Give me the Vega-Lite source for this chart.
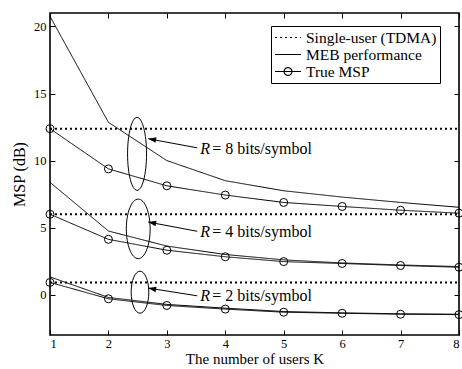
{
  "$schema": "https://vega.github.io/schema/vega-lite/v6.json",
  "width": 409,
  "height": 322,
  "autosize": "none",
  "padding": {"left": 50, "top": 13, "right": 3, "bottom": 34},
  "background": "white",
  "config": {
    "view": {"stroke": "black", "strokeWidth": 1.6},
    "font": "Liberation Serif",
    "axis": {"grid": false, "domain": false, "tickColor": "black", "labelColor": "black", "titleColor": "black", "labelFont": "Liberation Serif", "titleFont": "Liberation Serif", "labelFontSize": 12.5, "titleFontSize": 16, "titleFontWeight": "normal", "tickSize": -5, "tickWidth": 1}
  },
  "datasets": {
    "curves": [
      {"K": 1, "MSP": 12.38, "series": "Single-user (TDMA)", "R": "8"},
      {"K": 8, "MSP": 12.38, "series": "Single-user (TDMA)", "R": "8"},
      {"K": 1, "MSP": 6.0, "series": "Single-user (TDMA)", "R": "4"},
      {"K": 8, "MSP": 6.0, "series": "Single-user (TDMA)", "R": "4"},
      {"K": 1, "MSP": 0.92, "series": "Single-user (TDMA)", "R": "2"},
      {"K": 8, "MSP": 0.92, "series": "Single-user (TDMA)", "R": "2"},
      {"K": 1, "MSP": 20.75, "series": "MEB performance", "R": "8"},
      {"K": 2, "MSP": 12.85, "series": "MEB performance", "R": "8"},
      {"K": 3, "MSP": 10.0, "series": "MEB performance", "R": "8"},
      {"K": 4, "MSP": 8.5, "series": "MEB performance", "R": "8"},
      {"K": 5, "MSP": 7.75, "series": "MEB performance", "R": "8"},
      {"K": 6, "MSP": 7.28, "series": "MEB performance", "R": "8"},
      {"K": 7, "MSP": 6.88, "series": "MEB performance", "R": "8"},
      {"K": 8, "MSP": 6.52, "series": "MEB performance", "R": "8"},
      {"K": 1, "MSP": 12.38, "series": "True MSP", "R": "8"},
      {"K": 2, "MSP": 9.38, "series": "True MSP", "R": "8"},
      {"K": 3, "MSP": 8.12, "series": "True MSP", "R": "8"},
      {"K": 4, "MSP": 7.43, "series": "True MSP", "R": "8"},
      {"K": 5, "MSP": 6.88, "series": "True MSP", "R": "8"},
      {"K": 6, "MSP": 6.58, "series": "True MSP", "R": "8"},
      {"K": 7, "MSP": 6.3, "series": "True MSP", "R": "8"},
      {"K": 8, "MSP": 6.08, "series": "True MSP", "R": "8"},
      {"K": 1, "MSP": 8.38, "series": "MEB performance", "R": "4"},
      {"K": 2, "MSP": 4.75, "series": "MEB performance", "R": "4"},
      {"K": 3, "MSP": 3.63, "series": "MEB performance", "R": "4"},
      {"K": 4, "MSP": 3.0, "series": "MEB performance", "R": "4"},
      {"K": 5, "MSP": 2.6, "series": "MEB performance", "R": "4"},
      {"K": 6, "MSP": 2.37, "series": "MEB performance", "R": "4"},
      {"K": 7, "MSP": 2.22, "series": "MEB performance", "R": "4"},
      {"K": 8, "MSP": 2.1, "series": "MEB performance", "R": "4"},
      {"K": 1, "MSP": 6.0, "series": "True MSP", "R": "4"},
      {"K": 2, "MSP": 4.13, "series": "True MSP", "R": "4"},
      {"K": 3, "MSP": 3.32, "series": "True MSP", "R": "4"},
      {"K": 4, "MSP": 2.83, "series": "True MSP", "R": "4"},
      {"K": 5, "MSP": 2.47, "series": "True MSP", "R": "4"},
      {"K": 6, "MSP": 2.33, "series": "True MSP", "R": "4"},
      {"K": 7, "MSP": 2.18, "series": "True MSP", "R": "4"},
      {"K": 8, "MSP": 2.05, "series": "True MSP", "R": "4"},
      {"K": 1, "MSP": 1.33, "series": "MEB performance", "R": "2"},
      {"K": 2, "MSP": -0.2, "series": "MEB performance", "R": "2"},
      {"K": 3, "MSP": -0.72, "series": "MEB performance", "R": "2"},
      {"K": 4, "MSP": -1.0, "series": "MEB performance", "R": "2"},
      {"K": 5, "MSP": -1.25, "series": "MEB performance", "R": "2"},
      {"K": 6, "MSP": -1.35, "series": "MEB performance", "R": "2"},
      {"K": 7, "MSP": -1.42, "series": "MEB performance", "R": "2"},
      {"K": 8, "MSP": -1.45, "series": "MEB performance", "R": "2"},
      {"K": 1, "MSP": 0.92, "series": "True MSP", "R": "2"},
      {"K": 2, "MSP": -0.3, "series": "True MSP", "R": "2"},
      {"K": 3, "MSP": -0.8, "series": "True MSP", "R": "2"},
      {"K": 4, "MSP": -1.07, "series": "True MSP", "R": "2"},
      {"K": 5, "MSP": -1.3, "series": "True MSP", "R": "2"},
      {"K": 6, "MSP": -1.38, "series": "True MSP", "R": "2"},
      {"K": 7, "MSP": -1.45, "series": "True MSP", "R": "2"},
      {"K": 8, "MSP": -1.48, "series": "True MSP", "R": "2"}
    ],
    "notes": [
      {"R": "8", "Ke": 2.49, "Me": 10.5, "Ka": 2.68, "Ma": 11.63, "Kb": 3.52, "Mb": 10.95, "Kt": 3.57, "Mt": 10.88, "italic": "R", "rest": "= 8 bits/symbol"},
      {"R": "4", "Ke": 2.51, "Me": 4.91, "Ka": 2.68, "Ma": 5.42, "Kb": 3.52, "Mb": 4.73, "Kt": 3.57, "Mt": 4.65, "italic": "R", "rest": "= 4 bits/symbol"},
      {"R": "2", "Ke": 2.54, "Me": 0.19, "Ka": 2.68, "Ma": 0.5, "Kb": 3.52, "Mb": -0.08, "Kt": 3.57, "Mt": -0.13, "italic": "R", "rest": "= 2 bits/symbol"}
    ]
  },
  "resolve": {"axis": {"x": "independent", "y": "independent"}},
  "layer": [
    {
      "data": {"name": "curves"},
      "transform": [{"filter": "datum.series === 'Single-user (TDMA)'"}],
      "mark": {"type": "line", "color": "black", "strokeWidth": 2},
      "encoding": {
        "x": {"field": "K", "type": "quantitative", "scale": {"domain": [1, 8], "nice": false, "zero": false}, "axis": null},
        "y": {"field": "MSP", "type": "quantitative", "scale": {"domain": [-3, 21], "nice": false, "zero": false}, "axis": null},
        "detail": {"field": "R"},
        "strokeDash": {
          "field": "series", "type": "nominal",
          "scale": {"domain": ["Single-user (TDMA)", "MEB performance", "True MSP"], "range": [[2, 3], [1, 0], [1, 0]]},
          "legend": {
            "orient": "none", "legendX": 221, "legendY": 13, "title": null,
            "strokeColor": "black", "fillColor": "white", "padding": 3,
            "labelFont": "Liberation Serif", "labelFontSize": 15.5, "labelColor": "black", "labelOffset": 4, "labelLimit": 300,
            "symbolType": "stroke", "symbolSize": 676, "symbolStrokeColor": "black", "symbolStrokeWidth": 1.2, "symbolFillColor": "transparent",
            "clipHeight": 17, "rowPadding": 0,
            "encode": {"symbols": {"update": {"shape": {"signal": "datum.value === 'True MSP' ? 'M -1 0 L 1 0 M -0.3 0 A 0.3 0.3 0 1 1 0.3 0 A 0.3 0.3 0 1 1 -0.3 0' : 'stroke'"}}}}
          }
        }
      }
    },
    {
      "data": {"name": "curves"},
      "transform": [{"filter": "datum.series !== 'Single-user (TDMA)'"}],
      "mark": {"type": "line", "color": "black", "strokeWidth": 1},
      "encoding": {
        "x": {"field": "K", "type": "quantitative", "axis": {"orient": "bottom", "values": [1, 2, 3, 4, 5, 6, 7, 8], "format": "d", "title": "The number of users K", "titleFontSize": 15, "labelPadding": 7, "titlePadding": 2}},
        "y": {"field": "MSP", "type": "quantitative", "axis": {"orient": "left", "values": [0, 5, 10, 15, 20], "format": "d", "title": "MSP (dB)", "labelPadding": 9, "titlePadding": 6}},
        "detail": {"field": "R"},
        "strokeDash": {"field": "series", "type": "nominal"}
      }
    },
    {
      "data": {"name": "curves"},
      "transform": [{"filter": "datum.series === 'True MSP'"}],
      "mark": {"type": "point", "shape": "circle", "size": 64, "filled": false, "stroke": "black", "strokeWidth": 1, "opacity": 1},
      "encoding": {
        "x": {"field": "K", "type": "quantitative", "axis": {"orient": "top", "values": [1, 2, 3, 4, 5, 6, 7, 8], "labels": false, "title": null}},
        "y": {"field": "MSP", "type": "quantitative", "axis": {"orient": "right", "values": [0, 5, 10, 15, 20], "labels": false, "title": null}}
      }
    },
    {
      "data": {"name": "notes"},
      "mark": {"type": "point", "filled": false, "stroke": "black", "strokeWidth": 1, "opacity": 1},
      "encoding": {
        "x": {"field": "Ke", "type": "quantitative", "axis": null},
        "y": {"field": "Me", "type": "quantitative", "axis": null},
        "shape": {"field": "R", "type": "nominal", "legend": null, "scale": {"domain": ["8", "4", "2"], "range": ["M 0 -1 A 0.26 1 0 1 1 0 1 A 0.26 1 0 1 1 0 -1 Z", "M 0 -1 A 0.4 1 0 1 1 0 1 A 0.4 1 0 1 1 0 -1 Z", "M 0 -1 A 0.42 1 0 1 1 0 1 A 0.42 1 0 1 1 0 -1 Z"]}},
        "size": {"field": "R", "type": "nominal", "legend": null, "scale": {"domain": ["8", "4", "2"], "range": [5329, 1764, 1005]}}
      }
    },
    {
      "data": {"name": "notes"},
      "mark": {"type": "rule", "color": "black", "strokeWidth": 1},
      "encoding": {
        "x": {"field": "Kb", "type": "quantitative", "axis": null},
        "y": {"field": "Mb", "type": "quantitative", "axis": null},
        "x2": {"field": "Ka"},
        "y2": {"field": "Ma"}
      }
    },
    {
      "data": {"name": "notes"},
      "mark": {"type": "point", "shape": "M 0 0 L 2 -0.7 L 2 0.7 Z", "size": 64, "filled": true, "fill": "black", "strokeWidth": 0, "opacity": 1, "angle": 10},
      "encoding": {
        "x": {"field": "Ka", "type": "quantitative", "axis": null},
        "y": {"field": "Ma", "type": "quantitative", "axis": null}
      }
    },
    {
      "data": {"name": "notes"},
      "mark": {"type": "text", "align": "left", "baseline": "middle", "font": "Liberation Serif", "fontSize": 16, "fontStyle": "italic", "color": "black"},
      "encoding": {
        "x": {"field": "Kt", "type": "quantitative", "axis": null},
        "y": {"field": "Mt", "type": "quantitative", "axis": null},
        "text": {"field": "italic"}
      }
    },
    {
      "data": {"name": "notes"},
      "mark": {"type": "text", "align": "left", "baseline": "middle", "font": "Liberation Serif", "fontSize": 16, "color": "black", "dx": 12},
      "encoding": {
        "x": {"field": "Kt", "type": "quantitative", "axis": null},
        "y": {"field": "Mt", "type": "quantitative", "axis": null},
        "text": {"field": "rest"}
      }
    }
  ]
}
